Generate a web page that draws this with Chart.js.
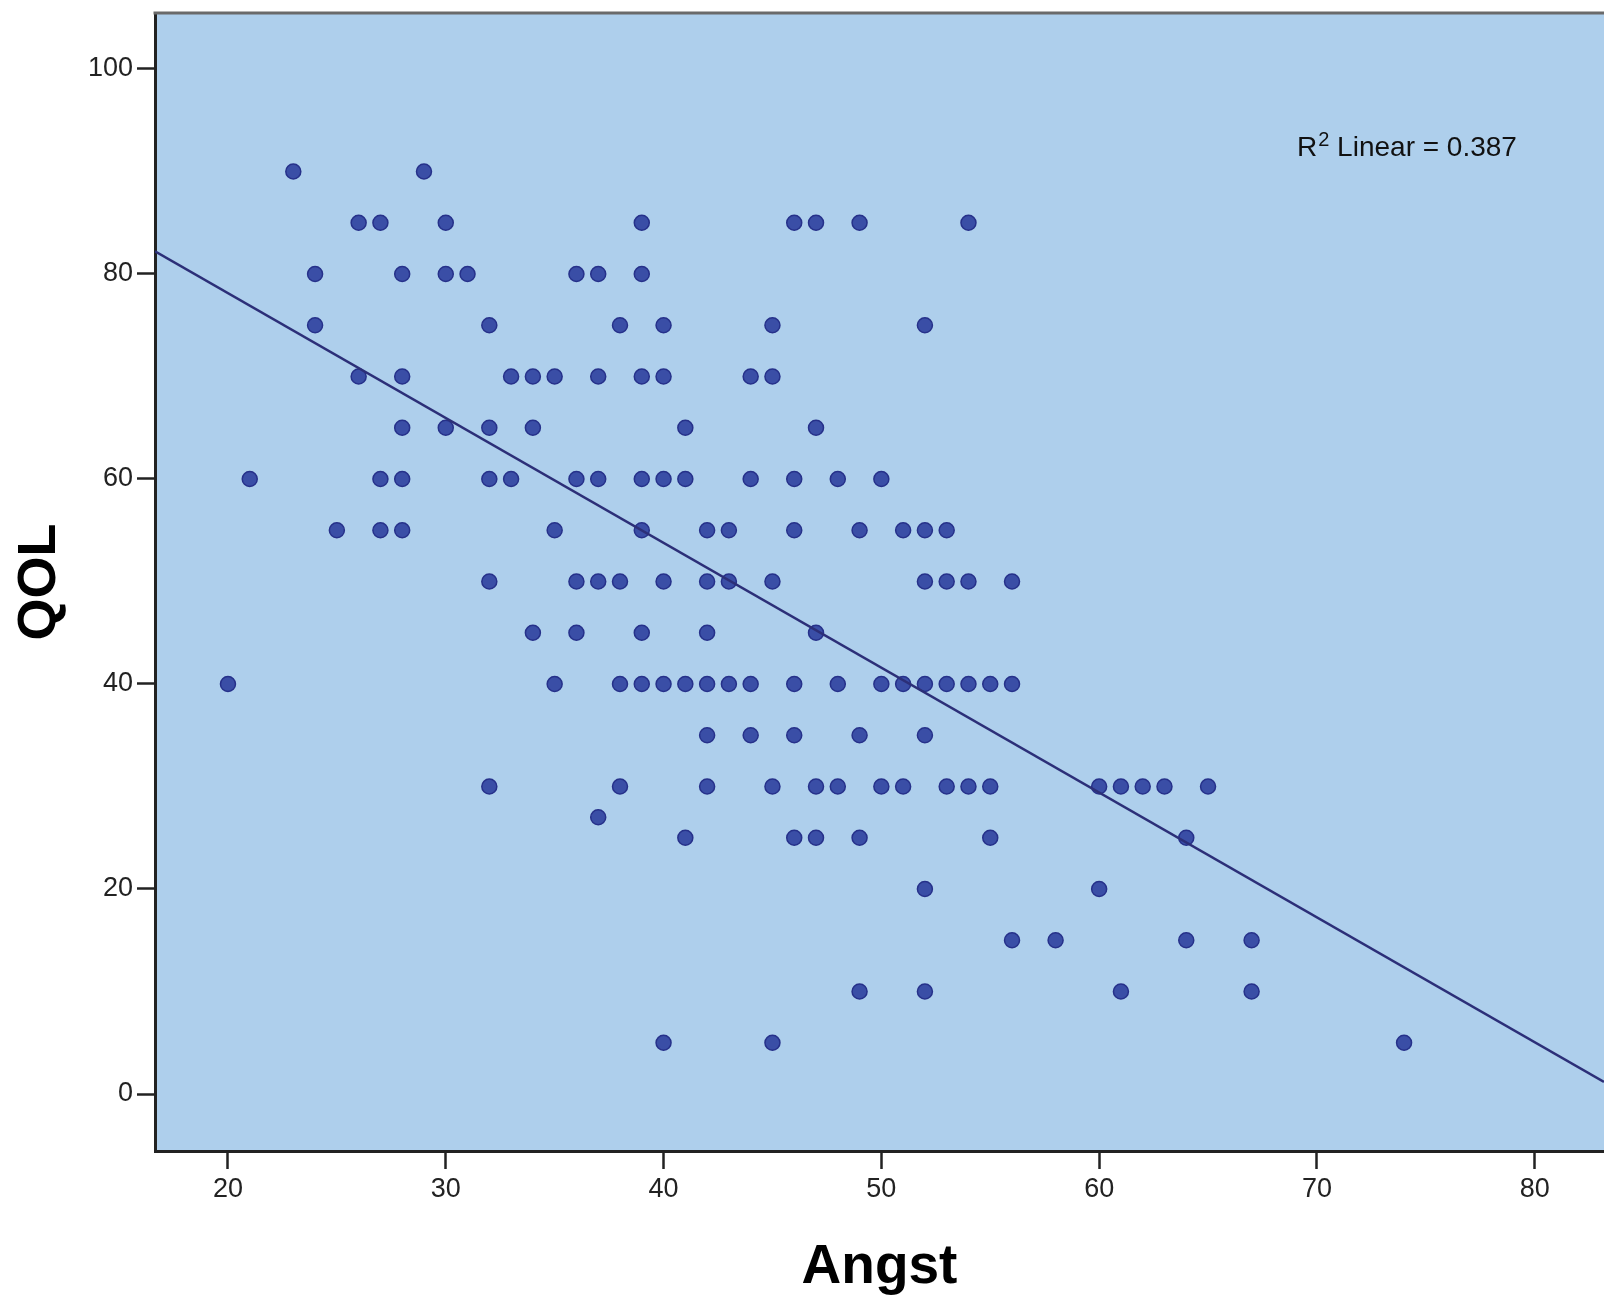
<!DOCTYPE html>
<html>
<head>
<meta charset="utf-8">
<script src="https://cdn.jsdelivr.net/npm/chart.js@4.4.0/dist/chart.umd.min.js"></script>
<style>
html,body{margin:0;padding:0;background:#ffffff;}
canvas{display:block;}
</style>
</head>
<body>
<canvas id="c" width="1604" height="1296"></canvas>
<script>
// ---- data (Angst vs QOL) ----
const angst = [
  23,29,
  26,27,30,39,46,47,49,54,
  24,28,30,31,36,37,39,
  24,32,38,40,45,52,
  26,28,33,34,35,37,39,40,44,45,
  28,30,32,34,41,47,
  21,27,28,32,33,36,37,39,40,41,44,46,48,50,
  25,27,28,35,39,42,43,46,49,51,52,53,
  32,36,37,38,40,42,43,45,52,53,54,56,
  34,36,39,42,47,
  20,35,38,39,40,41,42,43,44,46,48,50,51,52,53,54,55,56,
  42,44,46,49,52,
  32,38,42,45,47,48,50,51,53,54,55,60,61,62,63,65,
  37,
  41,46,47,49,55,64,
  52,60,
  56,58,64,67,
  49,52,61,67,
  40,45,74
];
const qol = [
  90,90,
  85,85,85,85,85,85,85,85,
  80,80,80,80,80,80,80,
  75,75,75,75,75,75,
  70,70,70,70,70,70,70,70,70,70,
  65,65,65,65,65,65,
  60,60,60,60,60,60,60,60,60,60,60,60,60,60,
  55,55,55,55,55,55,55,55,55,55,55,55,
  50,50,50,50,50,50,50,50,50,50,50,50,
  45,45,45,45,45,
  40,40,40,40,40,40,40,40,40,40,40,40,40,40,40,40,40,40,
  35,35,35,35,35,
  30,30,30,30,30,30,30,30,30,30,30,30,30,30,30,30,
  27,
  25,25,25,25,25,25,
  20,20,
  15,15,15,15,
  10,10,10,10,
  5,5,5
];
const xTicks = [20, 30, 40, 50, 60, 70, 80];
const yTicks = [0, 20, 40, 60, 80, 100];
const xRange = [16.65, 83.18];
const yRange = [-5.56, 105.46];
const fitIntercept = 102.5;
const fitSlope = -1.218;
const xTitle = 'Angst';
const yTitle = 'QOL';
const r2Value = '0.387';

// ---- drawing ----
const FONT = '"Liberation Sans", Arial, Helvetica, sans-serif';

const bgPlugin = {
  id: 'plotBg',
  beforeDraw(chart) {
    const {ctx, chartArea: a} = chart;
    ctx.save();
    ctx.fillStyle = '#aecfec';
    ctx.fillRect(a.left, a.top, a.right - a.left, a.bottom - a.top);
    ctx.restore();
  },
  afterDraw(chart) {
    const {ctx, chartArea: a} = chart;
    ctx.save();
    ctx.strokeStyle = '#6a6a6a';
    ctx.lineWidth = 3;
    ctx.beginPath();
    ctx.moveTo(a.left - 1.5, a.top);
    ctx.lineTo(a.right, a.top);
    ctx.stroke();
    // R² label
    ctx.fillStyle = '#111';
    ctx.textBaseline = 'alphabetic';
    let x = a.left + 1142, y = a.top + 143;
    ctx.font = '28px ' + FONT;
    ctx.fillText('R', x, y);
    x += ctx.measureText('R').width + 1;
    ctx.font = '20px ' + FONT;
    ctx.fillText('2', x, y - 10);
    x += ctx.measureText('2').width;
    ctx.font = '28px ' + FONT;
    ctx.fillText(' Linear = ' + r2Value, x, y);
    ctx.restore();
  }
};

const points = angst.map((a, i) => ({x: a, y: qol[i]}));
const fitLine = xRange.map(v => ({x: v, y: fitIntercept + fitSlope * v}));

new Chart(document.getElementById('c').getContext('2d'), {
  type: 'scatter',
  data: {
    datasets: [
      {
        type: 'line',
        data: fitLine,
        borderColor: '#2c2f78',
        borderWidth: 2.5,
        pointRadius: 0,
        fill: false,
        order: 0
      },
      {
        data: points,
        backgroundColor: '#3a4ea6',
        borderColor: '#26318a',
        borderWidth: 1.5,
        pointRadius: 7.5,
        order: 1
      }
    ]
  },
  options: {
    responsive: false,
    animation: false,
    devicePixelRatio: 1,
    layout: {autoPadding: false, padding: {top: 13, right: 0, left: 0, bottom: 0}},
    plugins: {legend: {display: false}, tooltip: {enabled: false}},
    scales: {
      x: {
        type: 'linear',
        min: xRange[0],
        max: xRange[1],
        afterBuildTicks: s => { s.ticks = xTicks.map(v => ({value: v})); },
        afterFit: s => { s.height = 145; s.paddingLeft = 0; s.paddingRight = 0; },
        grid: {drawOnChartArea: false, drawTicks: true, tickLength: 18, tickWidth: 2.5, tickColor: '#222'},
        border: {display: true, color: '#222', width: 3},
        ticks: {font: {family: FONT, size: 27}, color: '#222', padding: 4, maxRotation: 0, autoSkip: false},
        title: {display: true, text: xTitle, color: '#000',
                font: {family: FONT, size: 55, weight: 'bold', lineHeight: 1}, padding: {top: 0, bottom: 0.5}}
      },
      y: {
        type: 'linear',
        min: yRange[0],
        max: yRange[1],
        afterBuildTicks: s => { s.ticks = yTicks.map(v => ({value: v})); },
        afterFit: s => { s.width = 155; s.paddingTop = 0; s.paddingBottom = 0; },
        grid: {drawOnChartArea: false, drawTicks: true, tickLength: 18, tickWidth: 2.5, tickColor: '#222'},
        border: {display: true, color: '#222', width: 3},
        ticks: {font: {family: FONT, size: 27}, color: '#222', padding: 4, autoSkip: false},
        title: {display: true, text: yTitle, color: '#000',
                font: {family: FONT, size: 54, weight: 'bold'}, padding: {top: 8, bottom: 0}}
      }
    }
  },
  plugins: [bgPlugin]
});
</script>
</body>
</html>
